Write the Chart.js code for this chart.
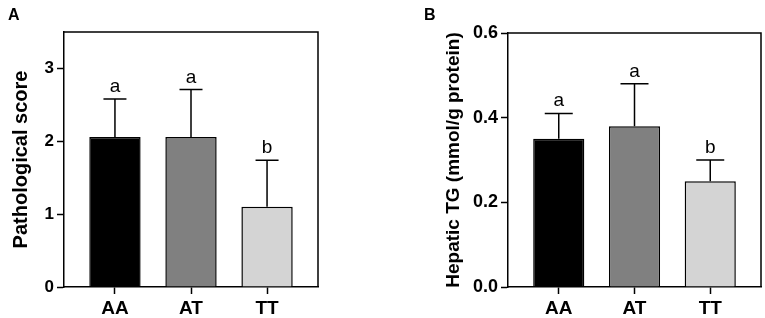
<!DOCTYPE html>
<html>
<head>
<meta charset="UTF-8">
<title>Pathological score / Hepatic TG</title>
<script src="https://cdn.jsdelivr.net/npm/chart.js"></script>
<style>
  body { margin: 0; background: #fff; }
  #wrap { position: relative; width: 765px; height: 318px; }
  canvas { position: absolute; top: 0; }
  #chartA { left: 0; }
  #chartB { left: 400px; }
</style>
</head>
<body>
<div id="wrap">
  <canvas id="chartA" width="330" height="318"></canvas>
  <canvas id="chartB" width="365" height="318"></canvas>
</div>
<script>
// data
const groups = ['AA', 'AT', 'TT'];

const scoreMean = [2.06, 2.06, 1.10];
const scoreErr = [0.52, 0.65, 0.64];
const scoreLetters = ['a', 'a', 'b'];
const scoreTicks = [0, 1, 2, 3];

const tgMean = [0.35, 0.38, 0.25];
const tgErr = [0.06, 0.10, 0.05];
const tgLetters = ['a', 'a', 'b'];
const tgTicks = [0.0, 0.2, 0.4, 0.6];

const barColors = ['#000000', '#808080', '#d4d4d4'];
const FONT = '"Liberation Sans", Arial, sans-serif';

Chart.defaults.font.family = FONT;
Chart.defaults.color = '#000';

// error bars, letters, frame top/right and panel letter
function makeExtras(mean, err, letters, cap, panel, panelX) {
  return {
    id: 'extras',
    afterDatasetsDraw(chart) {
      const {ctx, chartArea: ca, scales: {y}} = chart;
      const meta = chart.getDatasetMeta(0);
      ctx.save();
      ctx.strokeStyle = '#000';
      ctx.fillStyle = '#000';
      ctx.lineWidth = 1.5;
      ctx.beginPath();
      ctx.moveTo(ca.left, ca.top);
      ctx.lineTo(ca.right, ca.top);
      ctx.lineTo(ca.right, ca.bottom);
      ctx.stroke();

      ctx.font = '19px ' + FONT;
      ctx.textAlign = 'center';
      ctx.textBaseline = 'alphabetic';
      meta.data.forEach((bar, i) => {
        const top = y.getPixelForValue(mean[i]);
        const hi = y.getPixelForValue(mean[i] + err[i]);
        ctx.beginPath();
        ctx.moveTo(bar.x, top);
        ctx.lineTo(bar.x, hi);
        ctx.moveTo(bar.x - cap, hi);
        ctx.lineTo(bar.x + cap, hi);
        ctx.stroke();
        ctx.fillText(letters[i], bar.x, hi - 7);
      });

      ctx.font = 'bold 16px ' + FONT;
      ctx.textAlign = 'left';
      ctx.fillText(panel, panelX, 20);
      ctx.restore();
    }
  };
}

function axisGrid() {
  return { offset: false, drawOnChartArea: false, drawTicks: true, tickLength: 7, tickWidth: 1.5, tickColor: '#000' };
}

function buildChart(id, mean, err, letters, ticks, o) {
  return new Chart(document.getElementById(id), {
    type: 'bar',
    data: {
      labels: groups,
      datasets: [{
        data: mean,
        backgroundColor: barColors,
        borderColor: '#000',
        borderWidth: 1.5,
        barPercentage: 0.675,
        categoryPercentage: 1
      }]
    },
    options: {
      responsive: false,
      animation: false,
      layout: { padding: { top: o.top, right: o.right, bottom: 0, left: 0 } },
      plugins: { legend: { display: false }, tooltip: { enabled: false } },
      scales: {
        x: {
          offset: true,
          grid: axisGrid(),
          border: { display: true, color: '#000', width: 1.5 },
          ticks: { font: { size: 19, weight: 'bold' }, padding: 3, color: '#000' },
          // GraphPad leaves extra room at both ends of the category axis
          afterBuildTicks: s => { s._startValue = -0.67; s._valueRange = 3.34; },
          afterFit: s => { s.height = 318 - o.bottom; }
        },
        y: {
          min: 0,
          max: o.max,
          grid: axisGrid(),
          border: { display: true, color: '#000', width: 1.5 },
          ticks: { font: { size: o.tickSize, weight: 'bold' }, padding: 3, color: '#000', callback: o.fmt },
          afterBuildTicks: s => { s.ticks = ticks.map(v => ({ value: v })); },
          afterFit: s => { s.width = o.left; },
          title: {
            display: true,
            text: o.title,
            color: '#000',
            font: { size: o.titleSize, weight: 'bold' },
            padding: { top: o.titlePad, bottom: 0 }
          }
        }
      }
    },
    plugins: [makeExtras(mean, err, letters, o.cap, o.panel, o.panelX)]
  });
}

buildChart('chartA', scoreMean, scoreErr, scoreLetters, scoreTicks, {
  top: 32, bottom: 287, left: 64, right: 12, max: 3.5,
  fmt: v => String(v), title: 'Pathological score', titlePad: 9, titleSize: 20, tickSize: 17,
  cap: 11.5, panel: 'A', panelX: 8
});

buildChart('chartB', tgMean, tgErr, tgLetters, tgTicks, {
  top: 33, bottom: 287, left: 108, right: 4, max: 0.6,
  fmt: v => v.toFixed(1), title: 'Hepatic TG (mmol/g protein)', titlePad: 42, titleSize: 19, tickSize: 18,
  cap: 14, panel: 'B', panelX: 24
});
</script>
</body>
</html>
